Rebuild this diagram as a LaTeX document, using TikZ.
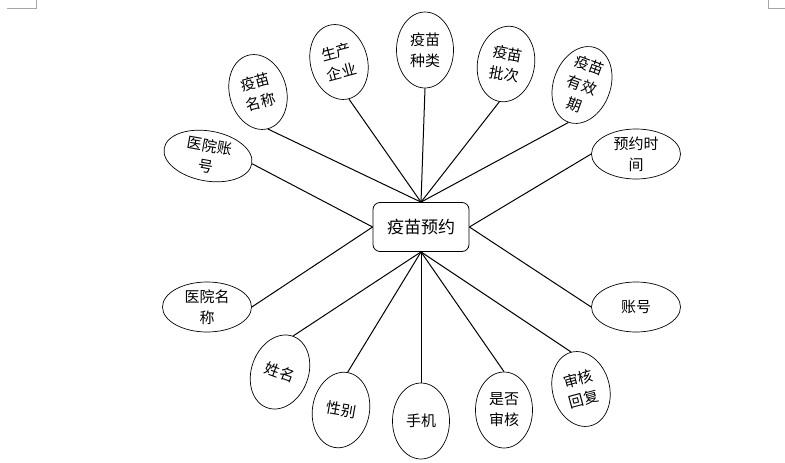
\documentclass[tikz,border=0pt]{standalone}
\usepackage{fontspec}
\setmainfont{Noto Sans CJK SC}
\usetikzlibrary{shapes.geometric}

\begin{document}
\begin{tikzpicture}[x=1pt, y=-1pt,
  attr/.style={draw, ellipse, line width=0.7pt, inner sep=0pt, align=center,
    font=\fontsize{15}{21}\selectfont},
  tall/.style={attr, minimum width=57pt, minimum height=76pt},
  wide/.style={attr, minimum width=89pt, minimum height=50pt},
  entity/.style={draw, line width=0.8pt, rounded corners=7pt, minimum width=96pt,
    minimum height=49pt, font=\fontsize{17}{20}\selectfont},
  link/.style={line width=1pt},
  cornermark/.style={draw=black!35, line width=0.6pt}]

  \useasboundingbox (0,0) rectangle (785,463);

  % Page corner marks
  \draw[cornermark] (7,8) -- (36,8) -- (36,0);
  \draw[cornermark] (768,0) -- (768,8) -- (785,8);

  % Entity
  \node[entity] (yy) at (421,227) {疫苗预约};

  % Attributes above
  \node[wide, rotate=-10] (yyzh) at (208,156) {医院账\\号};
  \node[tall, rotate=15] (ymmc) at (258,92) {疫苗\\名称};
  \node[tall, rotate=15] (scqy) at (339,62) {生产\\企业};
  \node[tall] (ymzl) at (425,50) {疫苗\\种类};
  \node[tall, rotate=-10] (ympc) at (506,64) {疫苗\\批次};
  \node[tall, rotate=-20] (ymyxq) at (582,85) {疫苗\\有效\\期};
  \node[wide] (yysj) at (636,154) {预约时\\间};

  % Attributes below
  \node[wide] (zh) at (636,307) {账号};
  \node[tall, rotate=15] (shhf) at (581,389) {审核\\回复};
  \node[tall] (sfsh) at (504,410) {是否\\审核};
  \node[tall] (sj) at (421,421) {手机};
  \node[tall, rotate=-10] (xb) at (341,410) {性别};
  \node[tall, rotate=-20] (xm) at (280,372) {姓名};
  \node[wide] (yymc) at (207,307) {医院名\\称};

  % Links
  \draw[link] (yy.west) -- (yyzh.east);
  \draw[link] (yy.north) -- (ymmc.south);
  \draw[link] (yy.north) -- (scqy.south);
  \draw[link] (yy.north) -- (ymzl.south);
  \draw[link] (yy.north) -- (ympc.south);
  \draw[link] (yy.north) -- (ymyxq.south);
  \draw[link] (yy.east) -- (yysj.west);
  \draw[link] (yy.east) -- (zh.west);
  \draw[link] (yy.south) -- (shhf.north);
  \draw[link] (yy.south) -- (sfsh.north);
  \draw[link] (yy.south) -- (sj.north);
  \draw[link] (yy.south) -- (xb.north);
  \draw[link] (yy.south) -- (xm.north);
  \draw[link] (yy.west) -- (yymc.east);

\end{tikzpicture}
\end{document}
